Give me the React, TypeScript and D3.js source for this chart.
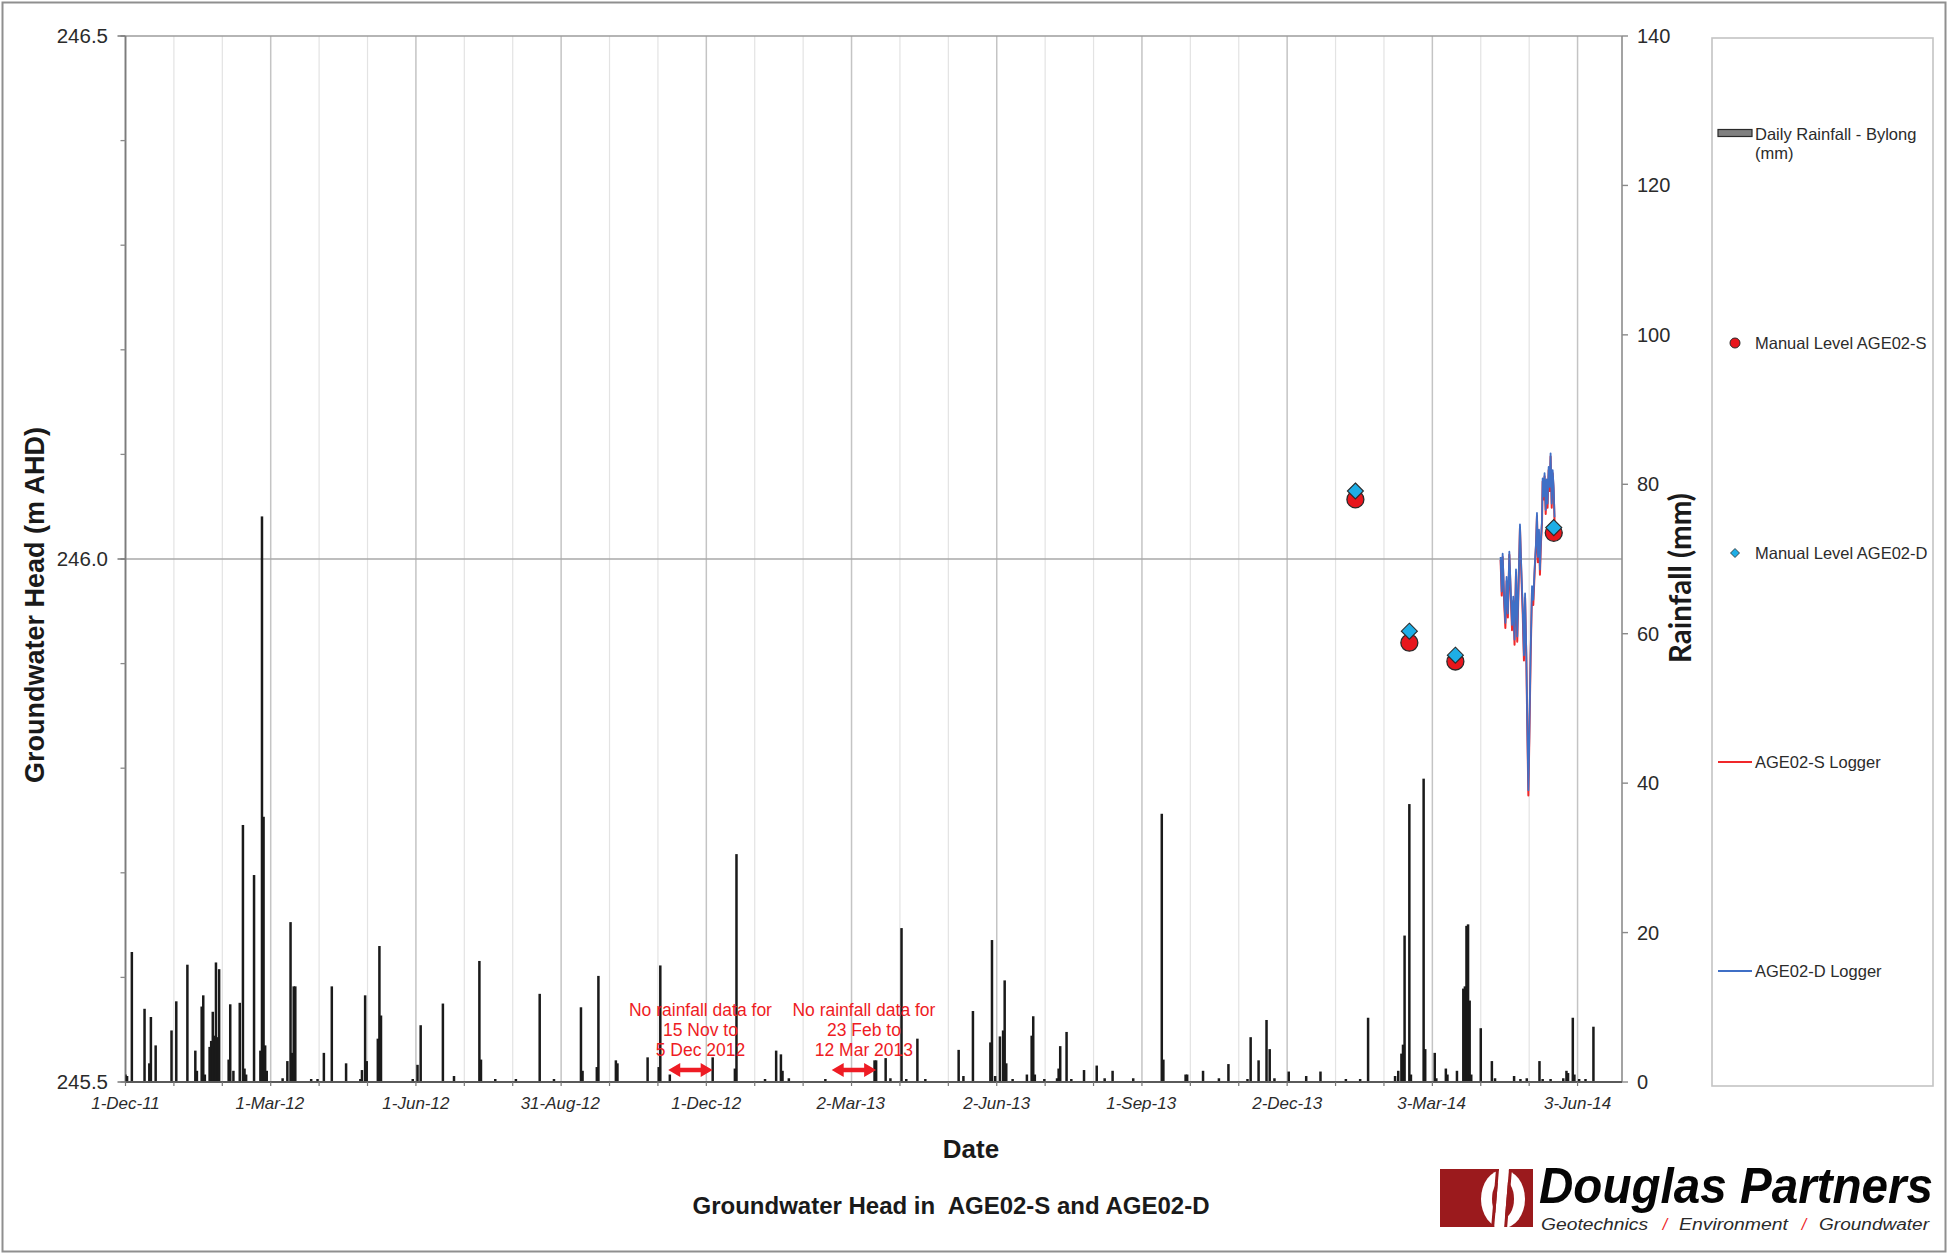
import React from 'react';
import * as d3 from 'd3';

// ---------- DATA ----------
const rainDates = [
  '2011-12-01','2011-12-02','2011-12-05','2011-12-13','2011-12-16','2011-12-17','2011-12-20','2011-12-30',
  '2012-01-02','2012-01-09','2012-01-14','2012-01-15','2012-01-18','2012-01-19','2012-01-20','2012-01-23',
  '2012-01-24','2012-01-25','2012-01-26','2012-01-27','2012-01-28','2012-01-29','2012-02-04','2012-02-05',
  '2012-02-07','2012-02-11','2012-02-13','2012-02-14','2012-02-15','2012-02-20','2012-02-24','2012-02-25',
  '2012-02-26','2012-02-27','2012-02-28','2012-03-09','2012-03-12','2012-03-14','2012-03-15','2012-03-16',
  '2012-03-17','2012-03-27','2012-03-31','2012-04-04','2012-04-09','2012-04-18','2012-04-27','2012-04-28',
  '2012-04-30','2012-05-01','2012-05-08','2012-05-09','2012-05-10','2012-05-30','2012-06-02','2012-06-04',
  '2012-06-18','2012-06-25','2012-07-11','2012-07-12','2012-07-21','2012-08-03','2012-08-18','2012-08-27',
  '2012-09-13','2012-09-14','2012-09-23','2012-09-24','2012-10-05','2012-10-06','2012-10-25','2012-11-01',
  '2012-11-02','2012-11-08','2012-12-05','2012-12-19','2012-12-20','2013-01-07','2013-01-14','2013-01-17',
  '2013-01-18','2013-01-22','2013-02-14','2013-03-17','2013-03-18','2013-03-24','2013-03-27','2013-04-03',
  '2013-04-06','2013-04-13','2013-04-18','2013-05-09','2013-05-12','2013-05-18','2013-05-29','2013-05-30',
  '2013-06-01','2013-06-04','2013-06-06','2013-06-07','2013-06-08','2013-06-12','2013-06-21','2013-06-24',
  '2013-06-25','2013-06-26','2013-07-02','2013-07-10','2013-07-11','2013-07-12','2013-07-16','2013-07-19',
  '2013-07-27','2013-08-04','2013-08-09','2013-08-14','2013-08-27','2013-09-14','2013-09-15','2013-09-29',
  '2013-09-30','2013-10-10','2013-10-20','2013-10-26','2013-11-07','2013-11-09','2013-11-14','2013-11-19',
  '2013-11-21','2013-11-24','2013-12-03','2013-12-14','2013-12-23','2014-01-08','2014-01-17','2014-01-22',
  '2014-02-08','2014-02-10','2014-02-12','2014-02-13','2014-02-14','2014-02-17','2014-02-18','2014-02-26',
  '2014-02-27','2014-03-05','2014-03-06','2014-03-12','2014-03-13','2014-03-19','2014-03-23','2014-03-24',
  '2014-03-25','2014-03-26','2014-03-27','2014-03-28','2014-04-03','2014-04-10','2014-04-12','2014-04-24',
  '2014-04-28','2014-05-02','2014-05-10','2014-05-12','2014-05-17','2014-05-25','2014-05-27','2014-05-28',
  '2014-05-31','2014-06-01','2014-06-04','2014-06-08','2014-06-13'
];
const rainMm = [
  1.0, 0.8, 17.4, 9.8, 2.5, 8.7, 4.9, 6.9,
  10.8, 15.7, 4.2, 1.5, 10.1, 11.6, 1.0, 4.7,
  5.5, 9.4, 6.2, 16.0, 6.0, 15.1, 3.0, 10.4,
  1.5, 10.6, 34.4, 1.8, 1.0, 27.7, 4.2, 75.7,
  35.5, 4.9, 1.5, 0.5, 2.8, 21.4, 3.9, 12.8,
  12.8, 0.4, 0.4, 3.9, 12.8, 2.5, 0.4, 1.6,
  11.6, 2.8, 5.8, 18.2, 8.9, 0.4, 2.3, 7.6,
  10.5, 0.8, 16.2, 3.0, 0.4, 0.4, 11.8, 0.4,
  10.0, 1.5, 2.0, 14.2, 2.9, 2.5, 3.3, 2.0,
  15.6, 1.0, 3.3, 1.8, 30.5, 0.4, 4.2, 3.7,
  1.5, 0.5, 0.4, 2.9, 2.9, 3.2, 0.5, 20.6,
  0.4, 5.8, 0.4, 4.3, 0.8, 9.5, 5.3, 19.0,
  0.8, 6.1, 6.9, 13.6, 2.5, 0.4, 1.0, 6.2,
  8.8, 1.0, 0.4, 0.5, 1.8, 4.8, 6.7, 0.4,
  1.6, 2.2, 0.5, 1.5, 0.5, 35.9, 3.0, 1.0,
  1.0, 1.5, 0.5, 2.4, 0.4, 6.0, 2.9, 8.3,
  4.4, 0.5, 1.4, 0.8, 1.4, 0.4, 0.4, 8.6,
  0.8, 1.5, 3.8, 5.0, 19.6, 37.2, 1.0, 40.6,
  4.4, 3.9, 0.5, 1.8, 1.0, 1.5, 12.5, 12.8,
  20.9, 21.1, 10.9, 1.0, 7.2, 2.8, 0.5, 0.8,
  0.4, 0.5, 2.8, 0.4, 0.4, 0.5, 1.5, 1.2,
  8.6, 1.0, 0.4, 0.4, 7.4
];

const loggerTimes = [
  '2014-04-15T12:00','2014-04-16T05:00','2014-04-16T19:00','2014-04-17T19:00','2014-04-18T12:00','2014-04-19T07:00',
  '2014-04-20T02:00','2014-04-21T00:00','2014-04-21T19:00','2014-04-22T17:00','2014-04-23T12:00','2014-04-24T07:00',
  '2014-04-25T05:00','2014-04-26T00:00','2014-04-26T22:00','2014-04-27T17:00','2014-04-28T12:00','2014-04-29T10:00',
  '2014-04-30T05:00','2014-04-30T22:00','2014-05-01T17:00','2014-05-02T07:00','2014-05-03T00:00','2014-05-03T14:00',
  '2014-05-04T10:00','2014-05-05T07:00','2014-05-06T02:00','2014-05-07T00:00','2014-05-07T19:00','2014-05-08T10:00',
  '2014-05-09T00:00','2014-05-09T17:00','2014-05-10T07:00','2014-05-10T22:00','2014-05-11T14:00','2014-05-12T00:00',
  '2014-05-12T14:00','2014-05-13T05:00','2014-05-13T22:00','2014-05-14T12:00','2014-05-15T02:00','2014-05-15T19:00',
  '2014-05-16T10:00','2014-05-17T00:00','2014-05-17T17:00','2014-05-18T07:00','2014-05-18T22:00','2014-05-19T12:00'
];
const loggerS = [
  245.999, 245.965, 246.002, 245.957, 245.934, 245.979, 245.944, 246.004, 245.970, 245.932, 245.960, 245.918,
  245.987, 245.921, 245.980, 246.030, 245.989, 245.949, 245.903, 245.963, 245.906, 245.842, 245.774, 245.826,
  245.906, 245.970, 245.956, 245.989, 246.012, 246.041, 245.997, 246.025, 245.985, 246.015, 246.034, 246.074,
  246.057, 246.079, 246.043, 246.073, 246.049, 246.085, 246.065, 246.098, 246.049, 246.082, 246.066, 246.036
];
const loggerD = [
  246.002, 245.969, 246.005, 245.961, 245.939, 245.983, 245.948, 246.007, 245.974, 245.937, 245.964, 245.923,
  245.990, 245.926, 245.983, 246.033, 245.993, 245.954, 245.908, 245.967, 245.910, 245.846, 245.779, 245.830,
  245.910, 245.974, 245.961, 245.993, 246.015, 246.044, 246.002, 246.028, 245.990, 246.018, 246.037, 246.077,
  246.060, 246.082, 246.047, 246.076, 246.053, 246.088, 246.069, 246.101, 246.053, 246.085, 246.069, 246.040
];

const manualDates = ['2014-01-14', '2014-02-17', '2014-03-18', '2014-05-19'];
const manualS = [246.057, 245.920, 245.902, 246.025];
const manualD = [246.065, 245.931, 245.908, 246.030];

const xTickDates = ['2011-12-01','2012-03-01','2012-06-01','2012-08-31','2012-12-01','2013-03-02',
  '2013-06-02','2013-09-01','2013-12-02','2014-03-03','2014-06-03'];
const xTickLabels = ['1-Dec-11','1-Mar-12','1-Jun-12','31-Aug-12','1-Dec-12','2-Mar-13',
  '2-Jun-13','1-Sep-13','2-Dec-13','3-Mar-14','3-Jun-14'];
const leftTickValues = [245.5, 246.0, 246.5];
const rightTickValues = [0, 20, 40, 60, 80, 100, 120, 140];

const gap1Dates = ['2012-11-07', '2012-12-05'];
const gap1Lines = ['No rainfall data for', '15 Nov to', '5 Dec 2012'];
const gap2Dates = ['2013-02-18', '2013-03-18'];
const gap2Lines = ['No rainfall data for', '23 Feb to', '12 Mar 2013'];

const legendLabels = ['Daily Rainfall - Bylong', '(mm)', 'Manual Level AGE02-S', 'Manual Level AGE02-D',
  'AGE02-S Logger', 'AGE02-D Logger'];

// ---------- LAYOUT ----------
const W = 1948, H = 1254;
const PL = 125.5, PR = 1622, PT = 36, PB = 1082;
const FONT = '"Liberation Sans", Arial, Helvetica, sans-serif';
const RED = '#e8161d';
const CYAN = '#1eaee6';
const LRED = '#f0282a';
const LBLUE = '#3f6fc6';
const ANN = '#ee1c24';

const parse = (s: string) => new Date(s.length === 10 ? s + 'T00:00:00Z' : s + ':00Z');

export default function App() {
  const x = d3.scaleUtc().domain([parse('2011-12-01'), parse('2014-07-01')]).range([PL, PR]);
  const yL = d3.scaleLinear().domain([245.5, 246.5]).range([PB, PT]);
  const yR = d3.scaleLinear().domain([0, 140]).range([PB, PT]);

  const start = parse(xTickDates[0]).getTime();
  const DAY = 86400000;
  const minor = d3.range(0, 31).map((j) => ({ t: new Date(start + j * 30.5 * DAY), major: j % 3 === 0 }));
  const leftMinor = d3.range(0, 11).map((i) => 245.5 + i * 0.1);

  const lineS = d3.line<number>().x((_, i) => x(parse(loggerTimes[i]))).y((v) => yL(v));
  const lineD = d3.line<number>().x((_, i) => x(parse(loggerTimes[i]))).y((v) => yL(v));

  const diamond = (cx: number, cy: number, r: number) =>
    `M${cx},${cy - r}L${cx + r},${cy}L${cx},${cy + r}L${cx - r},${cy}Z`;

  const arrow = (x1: number, x2: number, y: number) => {
    const hl = 12, hw = 7, sw = 2.2;
    return `M${x1},${y}L${x1 + hl},${y - hw}L${x1 + hl},${y - sw}L${x2 - hl},${y - sw}L${x2 - hl},${y - hw}L${x2},${y}` +
      `L${x2 - hl},${y + hw}L${x2 - hl},${y + sw}L${x1 + hl},${y + sw}L${x1 + hl},${y + hw}Z`;
  };

  const note = (dates: string[], lines: string[], key: string) => {
    const a = x(parse(dates[0])), b = x(parse(dates[1]));
    const cx = (a + b) / 2 + 10;
    return (
      <g key={key}>
        {lines.map((l, i) => (
          <text key={i} x={cx} y={1016 + i * 20} textAnchor="middle" fontSize={17.5} fill={ANN} fontFamily={FONT}>{l}</text>
        ))}
        <path d={arrow(a, b, 1070)} fill={ANN} />
      </g>
    );
  };

  const LX = 1712, LW = 221;
  const LFS = 16.5;

  return (
    <svg width={W} height={H} style={{ position: 'absolute', left: 0, top: 0, background: '#fff' }} fontFamily={FONT}>
      <rect x={0} y={0} width={W} height={H} fill="#fff" />
      <rect x={2.5} y={2.5} width={W - 5} height={H - 5} fill="none" stroke="#8f8f8f" strokeWidth={2} />
      <defs>
        <clipPath id="plotclip"><rect x={PL} y={PT} width={PR - PL} height={PB - PT} /></clipPath>
      </defs>

      {/* vertical gridlines */}
      {minor.map((m, i) => (
        <line key={'g' + i} x1={x(m.t)} x2={x(m.t)} y1={PT} y2={PB}
          stroke={m.major ? '#c4c4c4' : '#e3e3e3'} strokeWidth={m.major ? 1.5 : 1.2} />
      ))}
      {/* horizontal gridline */}
      <line x1={PL} x2={PR} y1={yL(246.0)} y2={yL(246.0)} stroke="#a9a9a9" strokeWidth={1.6} />

      {/* plot frame */}
      <line x1={PL} x2={PR} y1={PT} y2={PT} stroke="#9c9c9c" strokeWidth={1.6} />
      <line x1={PR} x2={PR} y1={PT} y2={PB} stroke="#8c8c8c" strokeWidth={1.6} />
      <line x1={PL} x2={PL} y1={PT} y2={PB} stroke="#7c7c7c" strokeWidth={1.8} />

      {/* rainfall bars */}
      <g clipPath="url(#plotclip)">
        {rainDates.map((d, i) => {
          const cx = x(parse(d));
          const top = yR(rainMm[i]);
          return <rect key={'r' + i} x={cx - 1.25} y={top} width={2.5} height={PB - top} fill="#1a1a1a" />;
        })}
      </g>
      <line x1={PL} x2={PR} y1={PB} y2={PB} stroke="#5a5a5a" strokeWidth={1.8} />

      {/* logger lines */}
      <path d={lineS(loggerS) || ''} fill="none" stroke={LRED} strokeWidth={2} strokeLinejoin="round" />
      <path d={lineD(loggerD) || ''} fill="none" stroke={LBLUE} strokeWidth={1.8} strokeLinejoin="round" />

      {/* manual levels */}
      {manualDates.map((d, i) => (
        <circle key={'ms' + i} cx={x(parse(d))} cy={yL(manualS[i])} r={8.5} fill={RED} stroke="#2a2a2a" strokeWidth={1.3} />
      ))}
      {manualDates.map((d, i) => (
        <path key={'md' + i} d={diamond(x(parse(d)), yL(manualD[i]), 8)} fill={CYAN} stroke="#2a2a2a" strokeWidth={1.1} />
      ))}

      {/* left axis */}
      {leftMinor.map((v, i) => (
        <line key={'lt' + i} x1={PL - 5} x2={PL} y1={yL(v)} y2={yL(v)} stroke="#8a8a8a" strokeWidth={1.3} />
      ))}
      {leftTickValues.map((v, i) => (
        <g key={'ll' + i}>
          <line x1={PL - 8} x2={PL} y1={yL(v)} y2={yL(v)} stroke="#7a7a7a" strokeWidth={1.5} />
          <text x={108} y={yL(v) + 7} textAnchor="end" fontSize={20.5} fill="#2b2b2b">{d3.format('.1f')(v)}</text>
        </g>
      ))}

      {/* right axis */}
      {rightTickValues.map((v, i) => (
        <g key={'rl' + i}>
          <line x1={PR} x2={PR + 6} y1={yR(v)} y2={yR(v)} stroke="#8a8a8a" strokeWidth={1.4} />
          <text x={1637} y={yR(v) + 7} textAnchor="start" fontSize={20} fill="#2b2b2b">{v}</text>
        </g>
      ))}

      {/* x axis ticks & labels */}
      {minor.map((m, i) => (
        <line key={'xt' + i} x1={x(m.t)} x2={x(m.t)} y1={PB} y2={PB + 4} stroke="#777" strokeWidth={1.2} />
      ))}
      {xTickDates.map((d, i) => (
        <text key={'xl' + i} x={x(parse(d))} y={1109} textAnchor="middle" fontSize={17} fontStyle="italic" fill="#2b2b2b">
          {xTickLabels[i]}
        </text>
      ))}

      {/* annotations */}
      {note(gap1Dates, gap1Lines, 'n1')}
      {note(gap2Dates, gap2Lines, 'n2')}

      {/* axis titles */}
      <text x={971} y={1158} textAnchor="middle" fontSize={26} fontWeight="bold" fill="#1a1a1a">Date</text>
      <text transform="translate(44,605) rotate(-90)" textAnchor="middle" fontSize={27} fontWeight="bold" fill="#1a1a1a">
        Groundwater Head (m AHD)
      </text>
      <text transform="translate(1691,578) rotate(-90)" textAnchor="middle" fontSize={29.5} fontWeight="bold"
        fontFamily='Lato, "Open Sans", sans-serif' fill="#1a1a1a">Rainfall (mm)</text>
      <text x={951} y={1214} textAnchor="middle" fontSize={24} fontWeight="bold" fill="#1a1a1a" xmlSpace="preserve">
        Groundwater Head in  AGE02-S and AGE02-D
      </text>

      {/* legend */}
      <rect x={LX} y={38} width={LW} height={1048} fill="#fff" stroke="#c4c4c4" strokeWidth={1.6} />
      <rect x={1718} y={129.5} width={34} height={7} fill="#808080" stroke="#2a2a2a" strokeWidth={1.2} />
      <text x={1755} y={140} fontSize={LFS} fill="#2b2b2b">{legendLabels[0]}</text>
      <text x={1755} y={159} fontSize={LFS} fill="#2b2b2b">{legendLabels[1]}</text>
      <circle cx={1735} cy={343} r={5} fill={RED} stroke="#2a2a2a" strokeWidth={1} />
      <text x={1755} y={349} fontSize={LFS} fill="#2b2b2b">{legendLabels[2]}</text>
      <path d={diamond(1735, 553, 4.5)} fill={CYAN} stroke="#2a2a2a" strokeWidth={0.8} />
      <text x={1755} y={559} fontSize={LFS} fill="#2b2b2b">{legendLabels[3]}</text>
      <line x1={1718} x2={1752} y1={762} y2={762} stroke={LRED} strokeWidth={2} />
      <text x={1755} y={768} fontSize={LFS} fill="#2b2b2b">{legendLabels[4]}</text>
      <line x1={1718} x2={1752} y1={971} y2={971} stroke={LBLUE} strokeWidth={2} />
      <text x={1755} y={977} fontSize={LFS} fill="#2b2b2b">{legendLabels[5]}</text>

      {/* logo */}
      <defs>
        <clipPath id="logoclip"><rect x={1440} y={1169} width={93} height={58} /></clipPath>
      </defs>
      <rect x={1440} y={1169} width={93} height={58} fill="#9b1a1d" />
      <g clipPath="url(#logoclip)">
        <ellipse cx={1503} cy={1199} rx={22} ry={29} fill="#fff" />
        <ellipse cx={1503} cy={1199} rx={11} ry={19} fill="#9b1a1d" />
        <path d="M1499,1169L1509,1169L1504,1229L1494,1229Z" fill="#fff" />
        <path d="M1496,1169L1499,1169L1494,1229L1491,1229Z" fill="#9b1a1d" />
        <path d="M1509,1169L1512,1169L1507,1229L1504,1229Z" fill="#9b1a1d" />
      </g>
      <text transform="translate(1539,1203) scale(1,1.12)" fontSize={45} fontWeight={900} fontStyle="italic" fill="#050505"
        textLength={394} lengthAdjust="spacingAndGlyphs">Douglas Partners</text>
      <text x={1541} y={1230} fontSize={16} fontStyle="italic" fill="#2a2a2a" textLength={107} lengthAdjust="spacingAndGlyphs">Geotechnics</text>
      <text x={1665} y={1230} fontSize={16} fontStyle="italic" fill={ANN} textAnchor="middle">/</text>
      <text x={1679} y={1230} fontSize={16} fontStyle="italic" fill="#2a2a2a" textLength={109} lengthAdjust="spacingAndGlyphs">Environment</text>
      <text x={1804} y={1230} fontSize={16} fontStyle="italic" fill={ANN} textAnchor="middle">/</text>
      <text x={1819} y={1230} fontSize={16} fontStyle="italic" fill="#2a2a2a" textLength={110} lengthAdjust="spacingAndGlyphs">Groundwater</text>
    </svg>
  );
}
